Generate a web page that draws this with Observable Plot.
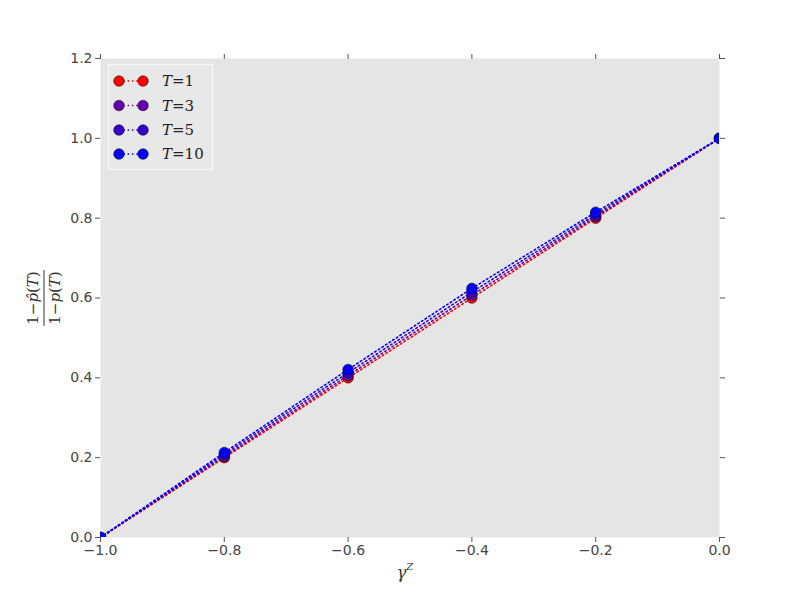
<!DOCTYPE html>
<html>
<head>
<meta charset="utf-8">
<script src="https://cdn.jsdelivr.net/npm/d3@7"></script>
<script src="https://cdn.jsdelivr.net/npm/@observablehq/plot@0.6"></script>
<style>
  html, body { margin: 0; padding: 0; background: #fff; }
  #chart { width: 800px; height: 599px; }
  svg { font-family: "DejaVu Sans", sans-serif; }
</style>
</head>
<body>
<div id="chart"></div>
<script>
const gammaZ = [-1.0, -0.8, -0.6, -0.4, -0.2, 0.0];
const seriesNames = ["T=1", "T=3", "T=5", "T=10"];
const seriesColors = ["#ff0000", "#6600aa", "#3300cc", "#0000ff"];
const ratioT1  = [0.0, 0.200, 0.400, 0.600, 0.800, 1.0];
const ratioT3  = [0.0, 0.203, 0.406, 0.607, 0.804, 1.0];
const ratioT5  = [0.0, 0.208, 0.413, 0.615, 0.809, 1.0];
const ratioT10 = [0.0, 0.213, 0.421, 0.624, 0.815, 1.0];
const yTicks = [0, 0.2, 0.4, 0.6, 0.8, 1.0, 1.2];
const xTicks = [-1.0, -0.8, -0.6, -0.4, -0.2, 0.0];

const allSeries = [ratioT1, ratioT3, ratioT5, ratioT10];
const rows = [];
allSeries.forEach((vals, si) => {
  vals.forEach((v, i) => rows.push({T: seriesNames[si], x: gammaZ[i], y: v}));
});

const marks = [Plot.frame({fill: "#e5e5e5", stroke: null})];
seriesNames.forEach((name, si) => {
  const d = rows.filter(r => r.T === name);
  marks.push(Plot.line(d, {x: "x", y: "y", stroke: seriesColors[si], strokeWidth: 1.6, strokeDasharray: "1.5,2.8", clip: true}));
  marks.push(Plot.dot(d, {x: "x", y: "y", r: 5.3, fill: seriesColors[si], stroke: "#000", strokeWidth: 0.5, clip: true}));
});
const fmt = d3.format(".1f");
const blank = () => "";
marks.push(
  Plot.axisY({anchor: "left", ticks: yTicks, tickFormat: fmt, tickSize: 5, tickPadding: 3, label: null, stroke: "#555", fill: "#444", fontSize: 14}),
  Plot.axisY({anchor: "right", ticks: yTicks, tickFormat: blank, tickSize: 5, label: null, stroke: "#555"}),
  Plot.axisX({anchor: "bottom", ticks: xTicks, tickFormat: fmt, tickSize: 5, tickPadding: 3, label: null, stroke: "#555", fill: "#444", fontSize: 14}),
  Plot.axisX({anchor: "top", ticks: xTicks, tickFormat: blank, tickSize: 5, label: null, stroke: "#555"})
);

const chart = Plot.plot({
  width: 800,
  height: 599,
  marginLeft: 100,
  marginRight: 81,
  marginTop: 58,
  marginBottom: 62,
  style: {fontSize: "14px", fontFamily: "DejaVu Sans, sans-serif", background: "#fff", overflow: "visible"},
  x: {domain: [-1.0, 0.0]},
  y: {domain: [0, 1.2]},
  marks
});

const svg = d3.select(chart);

// Legend
const lg = svg.append("g").attr("class", "legend").attr("text-anchor", "start");
lg.append("rect").attr("x", 108.5).attr("y", 64.5).attr("width", 104).attr("height", 105)
  .attr("fill", "#e8e8e8").attr("stroke", "#f8f8f8").attr("stroke-width", 1.2);
const rowY = [81, 105.5, 130, 154];
seriesNames.forEach((name, i) => {
  const y = rowY[i];
  lg.append("line").attr("x1", 119).attr("x2", 143).attr("y1", y).attr("y2", y)
    .attr("stroke", seriesColors[i]).attr("stroke-width", 1.6).attr("stroke-dasharray", "1.5,2.8");
  [119, 143].forEach(cx => lg.append("circle").attr("cx", cx).attr("cy", y).attr("r", 5.3)
    .attr("fill", seriesColors[i]).attr("stroke", "#000").attr("stroke-width", 0.5));
  const t = lg.append("text").attr("x", 162).attr("y", y).attr("dy", "0.35em")
    .attr("text-anchor", "start")
    .attr("font-family", "DejaVu Serif, serif").attr("font-size", 15).attr("fill", "#222");
  const parts = name.split("=");
  t.append("tspan").attr("font-style", "italic").text(parts[0]);
  t.append("tspan").text("=" + parts[1]);
});

// X label
const xl = svg.append("text").attr("x", 405).attr("y", 578).attr("text-anchor", "middle")
  .attr("font-family", "DejaVu Serif, serif").attr("font-size", 16).attr("fill", "#333");
xl.append("tspan").attr("font-style", "italic").text("γ");
xl.append("tspan").attr("font-style", "italic").attr("font-size", 10).attr("dy", -8).text("Z");

// Y label (fraction, rotated)
const yl = svg.append("g").attr("transform", "translate(44,298) rotate(-90)")
  .attr("font-family", "DejaVu Serif, serif").attr("font-size", 15).attr("fill", "#333");
const num = yl.append("text").attr("x", 0).attr("y", -6).attr("text-anchor", "middle");
num.append("tspan").text("1−");
num.append("tspan").attr("font-style", "italic").text("p\u0302");
num.append("tspan").text("(");
num.append("tspan").attr("font-style", "italic").text("T");
num.append("tspan").text(")");
yl.append("line").attr("x1", -28).attr("x2", 28).attr("y1", 0).attr("y2", 0).attr("stroke", "#333").attr("stroke-width", 1);
const den = yl.append("text").attr("x", 0).attr("y", 16).attr("text-anchor", "middle");
den.append("tspan").text("1−");
den.append("tspan").attr("font-style", "italic").text("p");
den.append("tspan").text("(");
den.append("tspan").attr("font-style", "italic").text("T");
den.append("tspan").text(")");

document.getElementById("chart").appendChild(chart);
</script>
</body>
</html>
